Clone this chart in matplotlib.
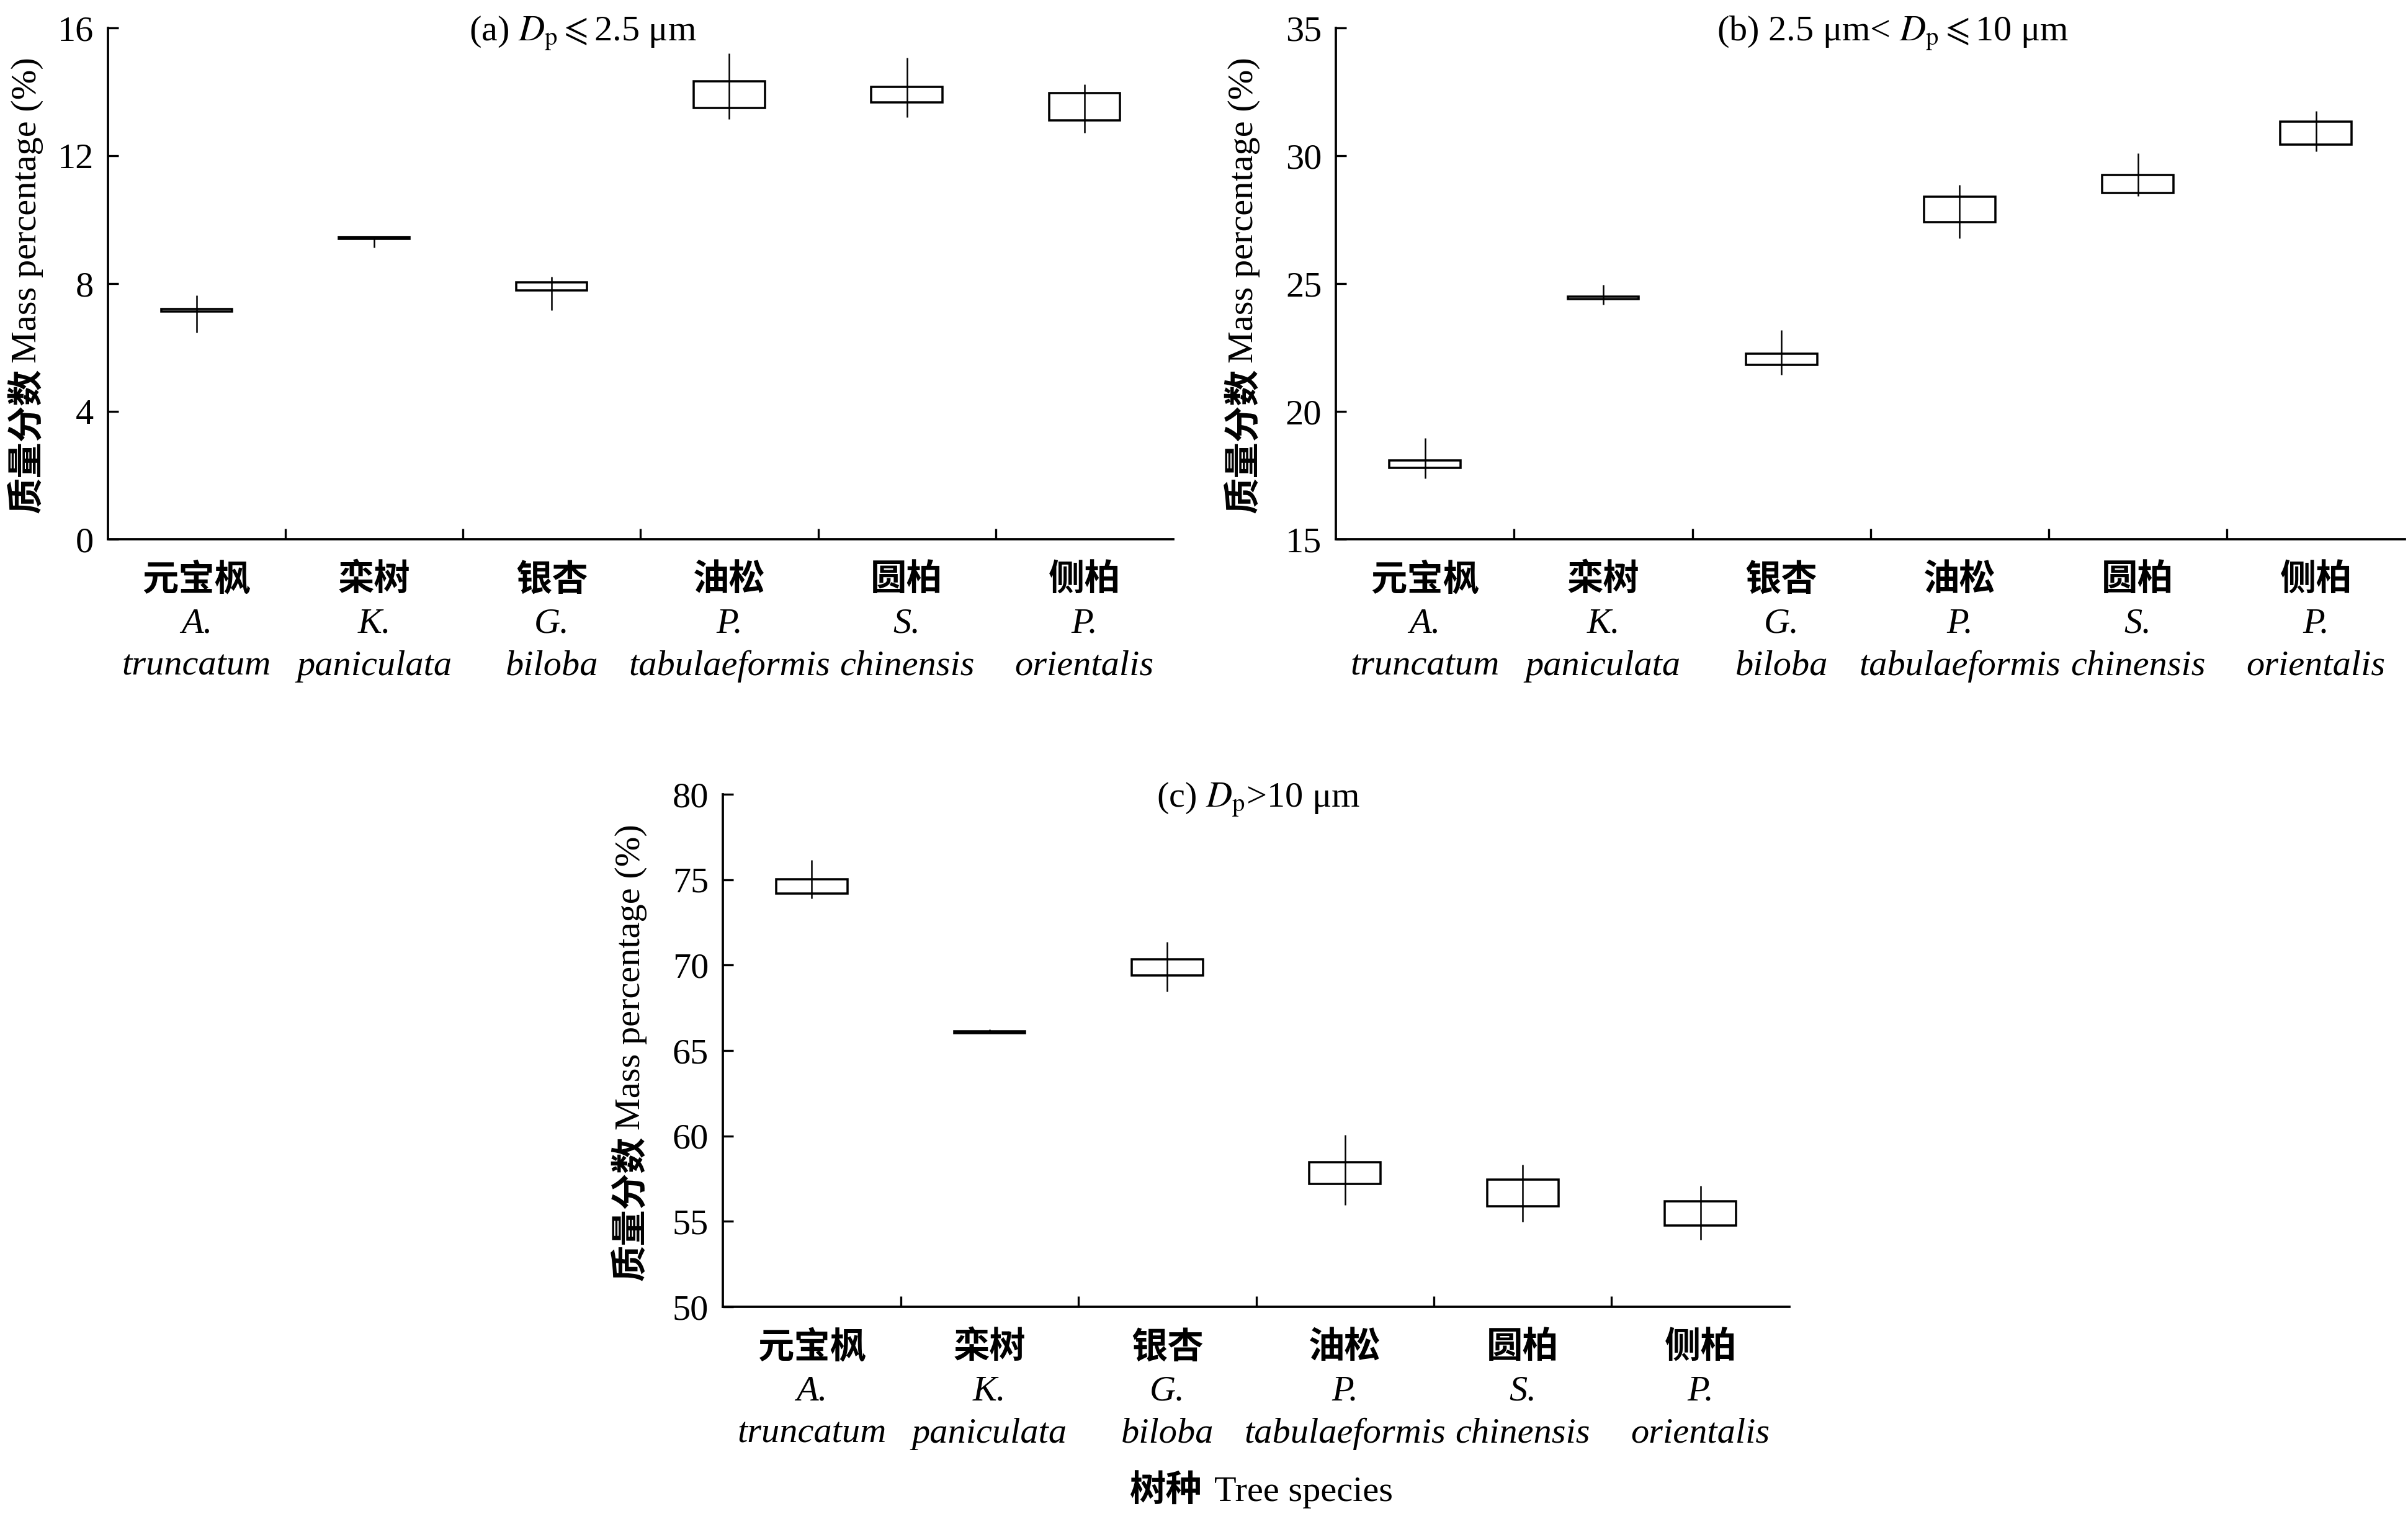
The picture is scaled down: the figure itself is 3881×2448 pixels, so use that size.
import matplotlib
matplotlib.use('Agg')
import numpy as np
import matplotlib.pyplot as plt

plt.rcParams['font.family'] = ['Liberation Serif', 'DejaVu Serif']
plt.rcParams['mathtext.fontset'] = 'stix'

cn_names = ['元宝枫', '栾树', '银杏', '油松', '圆柏', '侧柏']
genus = ['A.', 'K.', 'G.', 'P.', 'S.', 'P.']
epithet = ['truncatum', 'paniculata', 'biloba', 'tabulaeformis', 'chinensis', 'orientalis']

# (a) Dp <= 2.5 um
a_q1 = [7.13, 9.39, 7.78, 13.50, 13.68, 13.10]
a_q3 = [7.20, 9.46, 8.03, 14.34, 14.16, 13.97]
a_lo = [6.47, 9.12, 7.16, 13.14, 13.21, 12.71]
a_hi = [7.64, 9.46, 8.22, 15.20, 15.07, 14.23]

# (b) 2.5 um < Dp <= 10 um
b_q1 = [17.80, 24.39, 21.81, 27.40, 28.55, 30.45]
b_q3 = [18.09, 24.48, 22.26, 28.40, 29.25, 31.33]
b_lo = [17.37, 24.18, 21.43, 26.78, 28.43, 30.18]
b_hi = [18.95, 24.95, 23.18, 28.86, 30.09, 31.74]

# (c) Dp > 10 um
c_q1 = [74.20, 66.03, 69.41, 57.18, 55.88, 54.76]
c_q3 = [75.01, 66.13, 70.33, 58.45, 57.44, 56.17]
c_lo = [73.91, 66.03, 68.46, 55.97, 54.96, 53.92]
c_hi = [76.16, 66.24, 71.37, 60.07, 58.31, 57.07]

cjk = dict(family=['Noto Sans CJK SC', 'DejaVu Sans'], weight='bold')

fig = plt.figure(figsize=(3881 / 300, 2448 / 300), dpi=300)

panels = [
    ([0.0448, 0.645, 0.4424, 0.3366], a_q1, a_q3, a_lo, a_hi, (0, 16), np.arange(0, 17, 4),
     r'(a) $D_{\mathrm{p}}\leqslant$2.5 μm', 0.339, -0.0755),
    ([0.5548, 0.645, 0.4440, 0.3366], b_q1, b_q3, b_lo, b_hi, (15, 35), np.arange(15, 36, 5),
     r'(b) 2.5 μm< $D_{\mathrm{p}}\leqslant$10 μm', 0.356, -0.0859),
    ([0.3002, 0.1397, 0.4429, 0.3374], c_q1, c_q3, c_lo, c_hi, (50, 80), np.arange(50, 81, 5),
     r'(c) $D_{\mathrm{p}}$>10 μm', 0.4066, -0.0860),
]

x = np.arange(len(cn_names))
for rect, q1, q3, lo, hi, ylim, yt, title, tx, ylx in panels:
    ax = fig.add_axes(rect)
    q1 = np.array(q1)
    q3 = np.array(q3)
    ax.vlines(x, lo, hi, color='k', lw=0.6)
    ax.bar(x, q3 - q1, bottom=q1, width=0.4, fill=False, edgecolor='k', lw=0.85)

    ax.set_xlim(-0.5, 5.5)
    ax.set_ylim(*ylim)
    ax.set_yticks(yt)
    ax.tick_params(axis='y', direction='in', length=4, width=0.8, labelsize=14, pad=5.5)
    ax.set_xticks(x)
    ax.set_xticklabels(cn_names, fontsize=14, **cjk)
    ax.set_xticks(x[:-1] + 0.5, minor=True)
    ax.tick_params(axis='x', which='major', length=0, pad=8.5)
    ax.tick_params(axis='x', which='minor', direction='in', length=4, width=0.8)
    for s in ['top', 'right']:
        ax.spines[s].set_visible(False)
    for s in ['left', 'bottom']:
        ax.spines[s].set_linewidth(0.9)

    for i in x:
        ax.annotate(genus[i], (i, 0), xycoords=('data', 'axes fraction'),
                    xytext=(0, -36.2), textcoords='offset points',
                    ha='center', va='baseline', fontsize=14, style='italic')
        ax.annotate(epithet[i], (i, 0), xycoords=('data', 'axes fraction'),
                    xytext=(0, -52.5), textcoords='offset points',
                    ha='center', va='baseline', fontsize=14, style='italic')

    ax.text(tx, 0.976, title, transform=ax.transAxes, ha='left', va='baseline', fontsize=14)

    ax.text(ylx, 0.051, '质量分数', transform=ax.transAxes, rotation=90,
            ha='center', va='bottom', fontsize=14, **cjk)
    ax.text(ylx, 0.345, 'Mass percentage (%)', transform=ax.transAxes, rotation=90,
            ha='center', va='bottom', fontsize=14)

fig.text(0.4994, 0.012, '树种', ha='right', va='baseline', fontsize=14, **cjk)
fig.text(0.5043, 0.012, 'Tree species', ha='left', va='baseline', fontsize=14)

fig.savefig('out.png', dpi=300)
